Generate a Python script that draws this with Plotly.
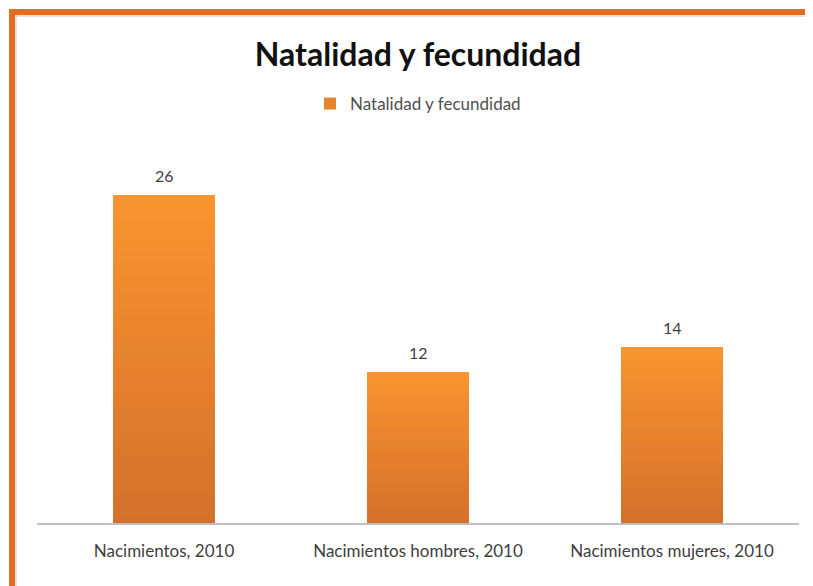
import plotly.graph_objects as go

categories = ["Nacimientos, 2010", "Nacimientos hombres, 2010", "Nacimientos mujeres, 2010"]
values = [26, 12, 14]
series_name = "Natalidad y fecundidad"

# gradient: each bar is cut into thin slices of its own height, dark at the bottom
n_slices = 40
bottom_rgb = (212, 112, 43)
top_rgb = (248, 149, 48)


def mix(t):
    r, g, b = (round(bottom_rgb[i] + (top_rgb[i] - bottom_rgb[i]) * t) for i in range(3))
    return f"rgb({r},{g},{b})"


fig = go.Figure()
for k in range(n_slices):
    t = (k + 0.5) / n_slices
    fig.add_trace(go.Bar(
        x=categories,
        y=[v / n_slices for v in values],
        marker=dict(color=mix(t), line=dict(width=0)),
        width=0.4,
        name=series_name,
        legendgroup="s",
        showlegend=(k == n_slices // 2),
        hoverinfo="skip",
    ))

# value labels above each bar
for c, v in zip(categories, values):
    fig.add_annotation(x=c, y=v, text=str(v), showarrow=False, yanchor="bottom", yshift=8,
                       font=dict(size=16, color="#404040"))

# the page puts the figure 8 px in from the corner, so work in page pixels minus 8
OFF = 8
W, H = 813 - OFF, 586 - OFF
L, T = 37 - OFF, 170 - OFF
R, B = W - (799 - OFF), H - (523 - OFF)
pw, ph = W - L - R, H - T - B


def px(x):
    return (x - OFF - L) / pw


def py(y):
    return (H - B - (y - OFF)) / ph


orange = "#E36C25"
fig.add_shape(type="rect", xref="paper", yref="paper", x0=px(9), x1=px(813), y0=py(15), y1=py(9),
              fillcolor=orange, line=dict(width=0), layer="above")
fig.add_shape(type="rect", xref="paper", yref="paper", x0=px(9), x1=px(15), y0=py(586), y1=py(9),
              fillcolor=orange, line=dict(width=0), layer="above")
fig.add_shape(type="line", xref="paper", yref="paper", x0=px(15), x1=px(813), y0=py(16), y1=py(16),
              line=dict(color="#C8C8C8", width=1))
fig.add_shape(type="line", xref="paper", yref="paper", x0=px(16), x1=px(16), y0=py(586), y1=py(15),
              line=dict(color="#C8C8C8", width=1))

fig.update_layout(
    width=W, height=H,
    margin=dict(l=L, r=R, t=T, b=B),
    barmode="stack",
    bargap=0.6,
    paper_bgcolor="white",
    plot_bgcolor="white",
    font=dict(family="Lato, Open Sans, sans-serif", color="#404040"),
    title=dict(text="<b>Natalidad y fecundidad</b>", x=px(418), xanchor="center", xref="paper",
               y=1 - (55 - OFF) / H, yanchor="middle", font=dict(size=32, color="#111111")),
    legend=dict(orientation="h", x=px(418), xanchor="center", y=py(104), yanchor="middle",
                font=dict(size=17, color="#505050"), itemwidth=30, traceorder="normal"),
    xaxis=dict(showline=True, linecolor="#BFBFBF", linewidth=1.5, ticks="",
               ticklabelstandoff=12,
               tickfont=dict(size=17, color="#404040"), showgrid=False),
    yaxis=dict(range=[0, 28], visible=False, showgrid=False),
)

fig.write_html("out.html")
